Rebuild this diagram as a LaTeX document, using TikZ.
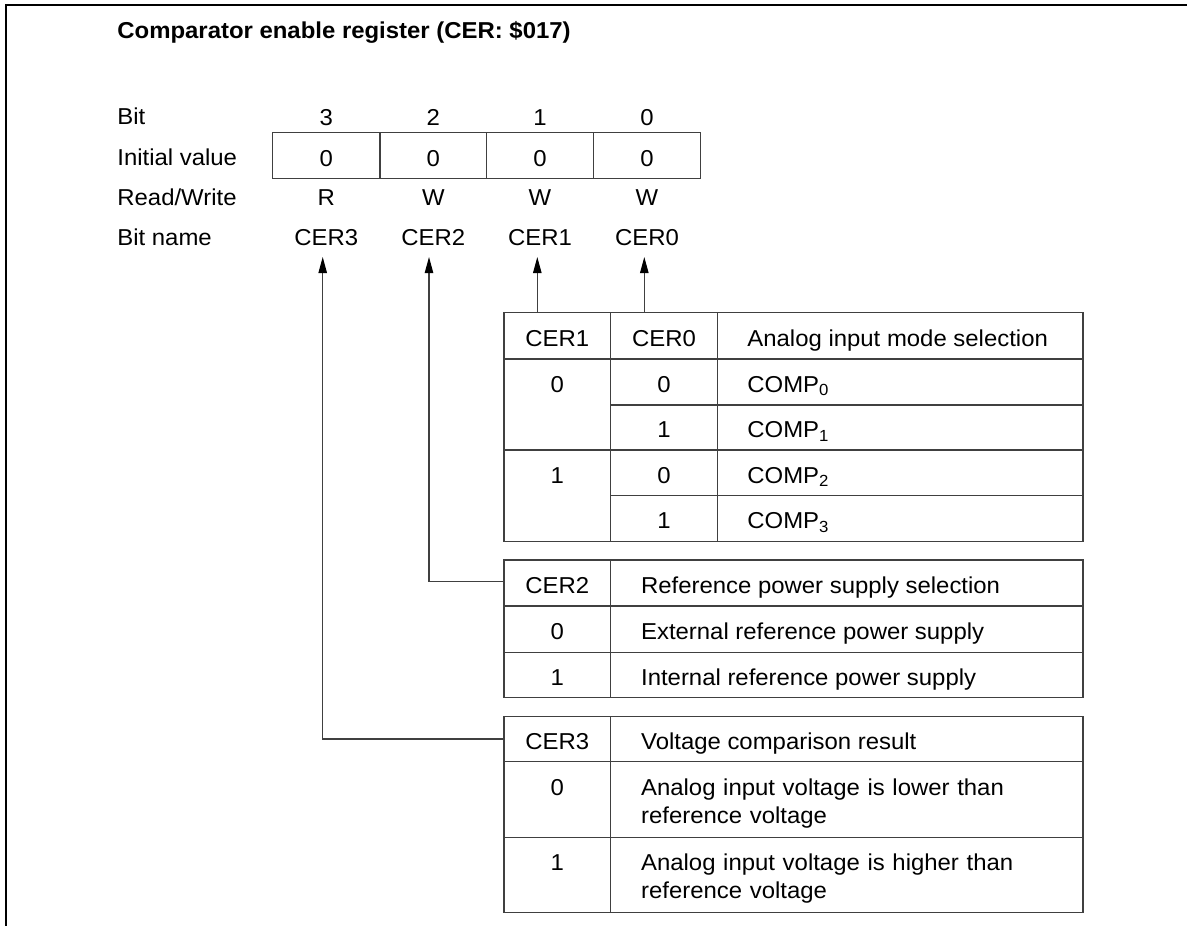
\documentclass[tikz,border=0pt]{standalone}
\usepackage{fontspec}
\setmainfont[FakeStretch=1.04]{Liberation Sans}
\usetikzlibrary{arrows.meta}
\begin{document}
\begin{tikzpicture}[x=0.5pt,y=-0.5pt,
  txt/.style={inner sep=0pt, anchor=base, font=\fontsize{11.5}{14.15}\selectfont},
  lbl/.style={txt, anchor=base west},
  multi/.style={lbl, text width=215pt, align=left},
  grid/.style={draw=black!75, line width=0.55pt},
  link/.style={draw=black!75, line width=0.55pt},
  tip/.style={-{Triangle[length=8pt,width=4.2pt,color=black]}},
  frame/.style={draw=black, line width=1pt}]
\useasboundingbox (0,0) rectangle (1187,926);
% frame
\draw[frame] (1187,5) -- (6,5) -- (6,926);
% title
\node[lbl, font=\fontsize{11.5}{14.15}\selectfont\bfseries] (title) at (117,39) {Comparator enable register (CER: \$017)};
% row labels
\node[lbl] (lbit) at (117,124.5) {Bit};
\node[lbl] (linit) at (117,165.5) {Initial value};
\node[lbl] (lrw) at (117,205) {Read/Write};
\node[lbl] (lname) at (117,245) {Bit name};
% register box
\draw[grid] (272.7,132.3) rectangle (700.7,178.3);
\draw[grid] (380,132.3) -- (380,178.3) (486.7,132.3) -- (486.7,178.3) (593.3,132.3) -- (593.3,178.3);
\foreach \n/\x/\r in {3/326.35/R, 2/433.35/W, 1/540/W, 0/647/W}{
  \node[txt] (b\n) at (\x,125) {\n};
  \node[txt] (v\n) at (\x,166.5) {0};
  \node[txt] (rw\n) at (\x,205) {\r};
  \node[txt] (nm\n) at (\x,245) {CER\n};
}
% arrow tips
\coordinate (tip3) at (322.7,257);
\coordinate (tip2) at (429,257);
\coordinate (tip1) at (537.3,257);
\coordinate (tip0) at (644.3,257);
% ---------- table 1 ----------
\draw[grid] (504,312.7) rectangle (1083,541.7);
\draw[grid] (610.7,312.7) -- (610.7,541.7) (717.3,312.7) -- (717.3,541.7);
\draw[grid] (504,359) -- (1083,359) (504,450) -- (1083,450);
\draw[grid] (610.7,405) -- (1083,405) (610.7,495.7) -- (1083,495.7);
\coordinate (t1a) at (537.3,312.7);
\coordinate (t1b) at (644.3,312.7);
\node[txt] (h1a) at (557.35,346) {CER1};
\node[txt] (h1b) at (664,346) {CER0};
\node[lbl] (h1c) at (747,346) {Analog input mode selection};
\node[txt] (r1a) at (557.35,392) {0};
\node[txt] (r1b) at (664,392) {0};
\node[lbl] (r1c) at (747,392) {COMP\textsubscript{0}};
\node[txt] (r2b) at (664,437.5) {1};
\node[lbl] (r2c) at (747,437.5) {COMP\textsubscript{1}};
\node[txt] (r3a) at (557.35,483) {1};
\node[txt] (r3b) at (664,483) {0};
\node[lbl] (r3c) at (747,483) {COMP\textsubscript{2}};
\node[txt] (r4b) at (664,528.7) {1};
\node[lbl] (r4c) at (747,528.7) {COMP\textsubscript{3}};
% ---------- table 2 ----------
\draw[grid] (504,560) rectangle (1083,697.7);
\draw[grid] (610.7,560) -- (610.7,697.7);
\draw[grid] (504,606) -- (1083,606) (504,652.3) -- (1083,652.3);
\coordinate (h2w) at (504,581.7);
\node[txt] (h2a) at (557.35,593) {CER2};
\node[lbl] (h2b) at (640.7,593) {Reference power supply selection};
\node[txt] (s1a) at (557.35,639) {0};
\node[lbl] (s1b) at (640.7,639) {External reference power supply};
\node[txt] (s2a) at (557.35,685) {1};
\node[lbl] (s2b) at (640.7,685) {Internal reference power supply};
% ---------- table 3 ----------
\draw[grid] (504,716.7) rectangle (1083,912.7);
\draw[grid] (610.7,716.7) -- (610.7,912.7);
\draw[grid] (504,761.7) -- (1083,761.7) (504,837.3) -- (1083,837.3);
\coordinate (h3w) at (504,739);
\node[txt] (h3a) at (557.35,749) {CER3};
\node[lbl] (h3b) at (640.7,749) {Voltage comparison result};
\node[txt] (u1a) at (557.35,795) {0};
\node[multi] (u1b) at (640.7,795) {Analog input voltage is lower than\\reference voltage};
\node[txt] (u2a) at (557.35,870) {1};
\node[multi] (u2b) at (640.7,870) {Analog input voltage is higher than\\reference voltage};
% ---------- connectors ----------
\draw[link,tip] (t1a) -- (tip1);
\draw[link,tip] (t1b) -- (tip0);
\draw[link,tip] (h2w) -| (tip2);
\draw[link,tip] (h3w) -| (tip3);
\end{tikzpicture}
\end{document}
